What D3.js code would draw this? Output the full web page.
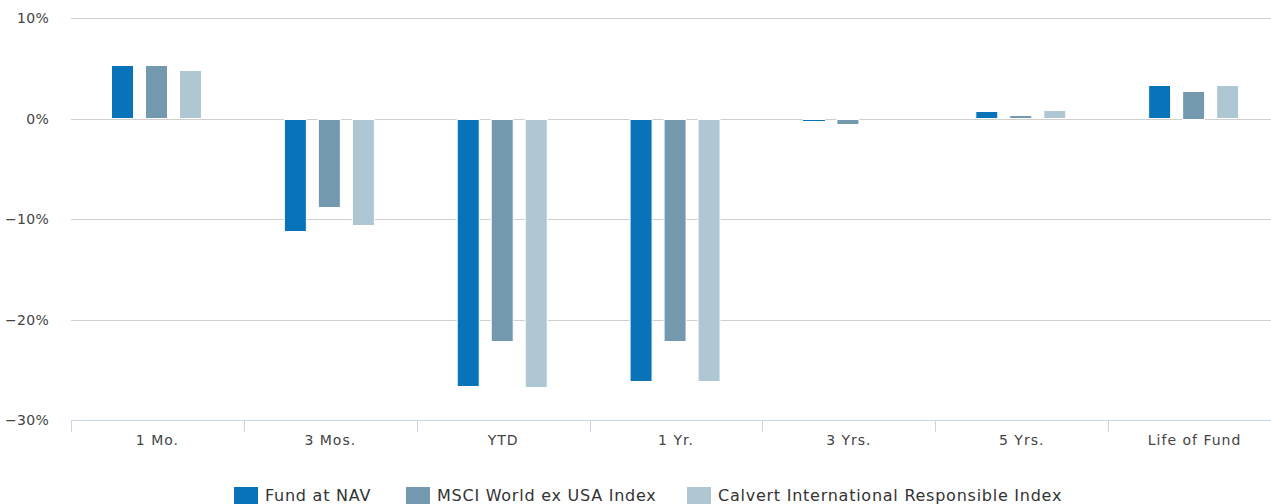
<!DOCTYPE html>
<html>
<head>
<meta charset="utf-8">
<script src="https://cdn.jsdelivr.net/npm/d3@7"></script>
<style>
  html, body { margin: 0; padding: 0; background: #fff; overflow: hidden; }
  svg { display: block; }
  text { font-family: "DejaVu Sans", sans-serif; }
</style>
</head>
<body>
<svg id="chart" width="1271" height="504"></svg>
<script>
const categories = ["1 Mo.", "3 Mos.", "YTD", "1 Yr.", "3 Yrs.", "5 Yrs.", "Life of Fund"];
const seriesNames = ["Fund at NAV", "MSCI World ex USA Index", "Calvert International Responsible Index"];
const fundAtNav = [5.28, -11.15, -26.6, -26.1, -0.15, 0.70, 3.30];
const msciWorldExUsa = [5.30, -8.75, -22.1, -22.1, -0.50, 0.30, 2.78];
const calvertIntlResp = [4.80, -10.55, -26.7, -26.1, 0.02, 0.80, 3.30];
const seriesColors = ["#0873b8", "#7499af", "#afc6d3"];
const yTicks = [10, 0, -10, -20, -30];

const seriesValues = [fundAtNav, msciWorldExUsa, calvertIntlResp];

const svg = d3.select("#chart");
const plot = { left: 71, right: 1281, top: 18, bottom: 420, visibleRight: 1271 };

const x = d3.scaleBand().domain(categories).range([plot.left, plot.right]).padding(0);
const x1 = d3.scaleBand().domain(d3.range(3)).range([-1.5, x.bandwidth() - 1.5])
  .paddingInner(0.362).paddingOuter(1.2);
const y = d3.scaleLinear().domain([-30, 10]).range([plot.bottom, plot.top]);

// grid lines
svg.append("g").selectAll("line").data(yTicks.filter(t => t !== -30)).join("line")
  .attr("x1", plot.left).attr("x2", plot.visibleRight)
  .attr("y1", d => Math.round(y(d)) + 0.5).attr("y2", d => Math.round(y(d)) + 0.5)
  .attr("stroke", "#cfcfcf").attr("stroke-width", 1);

// y labels
svg.append("g").selectAll("text").data(yTicks).join("text")
  .attr("x", 49).attr("y", d => y(d) + 5)
  .attr("text-anchor", "end").attr("font-size", 14).attr("fill", "#444")
  .attr("letter-spacing", 0.3)
  .text(d => (d < 0 ? "\u2212" + Math.abs(d) : d) + "%");

// bars
const groups = svg.append("g").selectAll("g").data(categories).join("g")
  .attr("transform", c => `translate(${x(c)},0)`);
groups.selectAll("rect").data((c, i) => seriesValues.map((s, k) => ({ k, v: s[i] }))).join("rect")
  .attr("x", d => Math.round(x1(d.k)) + 0.5)
  .attr("width", Math.round(x1.bandwidth()))
  .attr("y", d => Math.round(y(Math.max(0, d.v))) + 0.5)
  .attr("height", d => {
    const h = Math.abs(y(d.v) - y(0));
    return h < 0.5 ? 0 : Math.max(1, Math.round(h));
  })
  .attr("fill", d => seriesColors[d.k])
  .attr("stroke", "#fff").attr("stroke-width", 1);

// x axis
svg.append("line").attr("x1", plot.left).attr("x2", plot.visibleRight)
  .attr("y1", plot.bottom + 0.5).attr("y2", plot.bottom + 0.5).attr("stroke", "#ccd6eb");
const boundaries = categories.map(c => x(c));
svg.append("g").selectAll("line").data(boundaries).join("line")
  .attr("x1", d => Math.round(d) + 0.5).attr("x2", d => Math.round(d) + 0.5)
  .attr("y1", plot.bottom).attr("y2", plot.bottom + 12).attr("stroke", "#ccd6eb");
svg.append("g").selectAll("text").data(categories).join("text")
  .attr("x", c => x(c) + x.bandwidth() / 2).attr("y", 445)
  .attr("text-anchor", "middle").attr("font-size", 14).attr("fill", "#444")
  .attr("letter-spacing", 1)
  .text(c => c);

// legend
const legendX = [234, 406, 687];
const lg = svg.append("g").selectAll("g").data(seriesNames).join("g")
  .attr("transform", (d, i) => `translate(${legendX[i]},0)`);
lg.append("rect").attr("x", 0).attr("y", 487).attr("width", 24).attr("height", 17)
  .attr("fill", (d, i) => seriesColors[i]);
lg.append("text").attr("x", 31).attr("y", 501).attr("font-size", 16).attr("fill", "#333")
  .attr("letter-spacing", 0.75)
  .text(d => d);
</script>
</body>
</html>
